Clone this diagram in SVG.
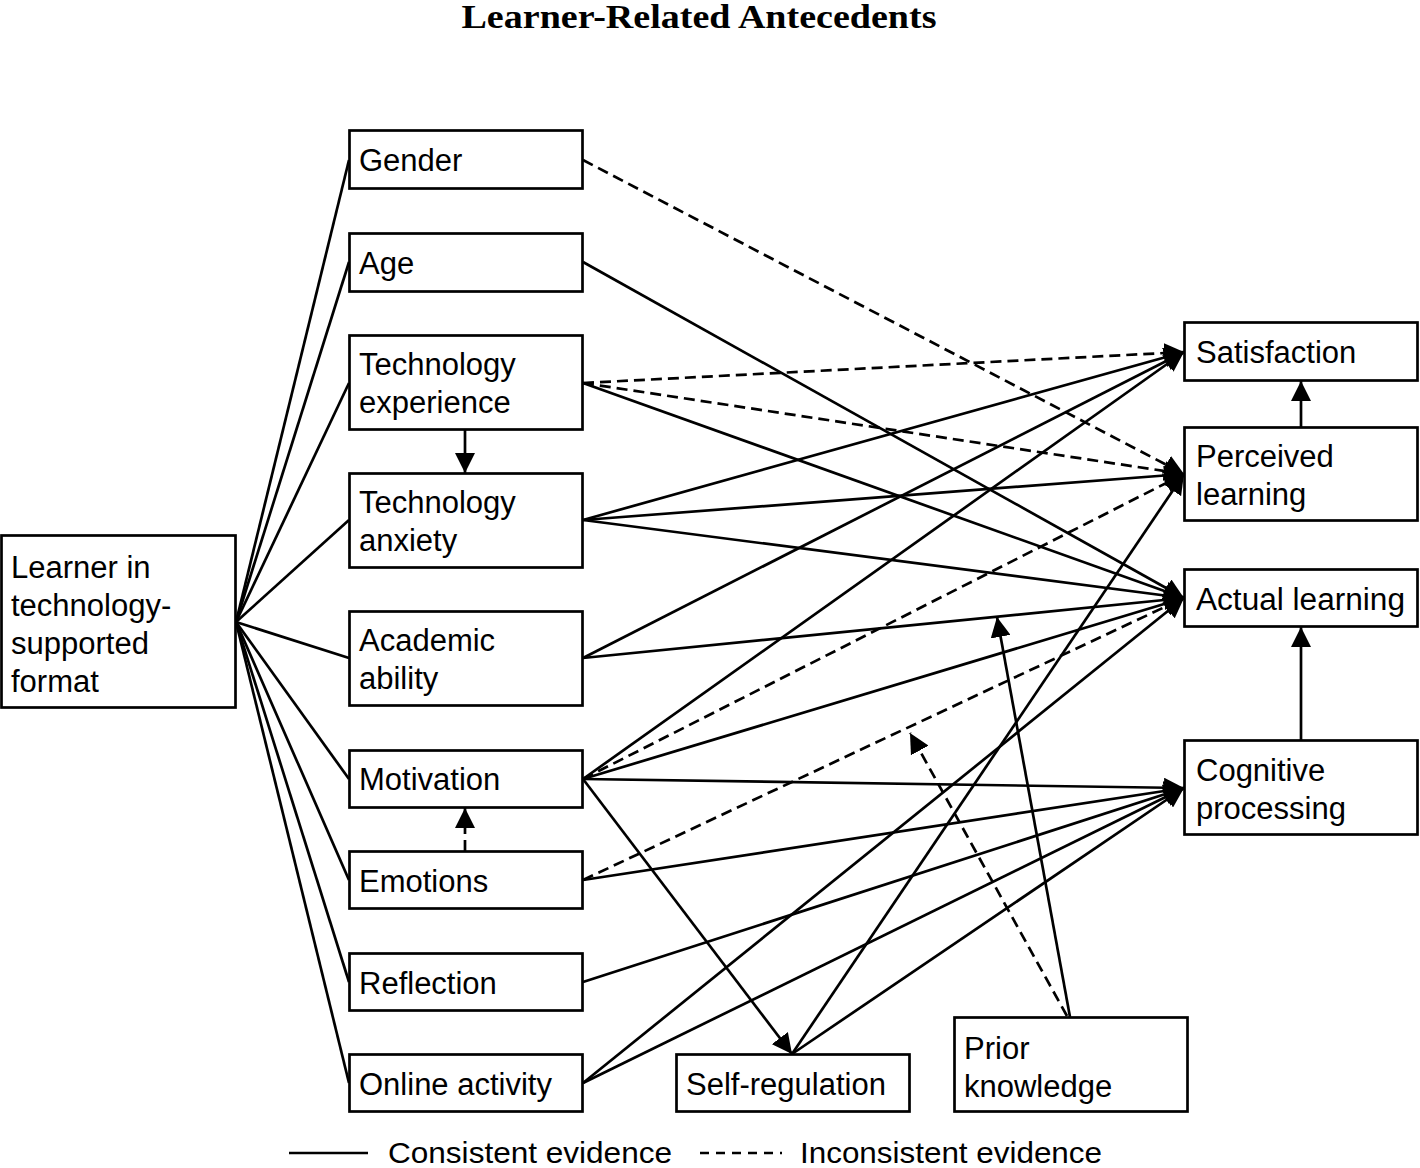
<svg xmlns="http://www.w3.org/2000/svg" width="1420" height="1168" viewBox="0 0 1420 1168">
<style>
.box{fill:#fff;stroke:#000;stroke-width:2.7}
.t{font-family:"Liberation Sans",Arial,sans-serif;font-size:31px;fill:#000}
.c{fill:none;stroke:#000;stroke-width:2.7}
.d{fill:none;stroke:#000;stroke-width:2.7;stroke-dasharray:11 6}
.title{font-family:"Liberation Serif","Times New Roman",serif;font-size:34px;font-weight:bold;fill:#000}
</style>
<defs>
<marker id="ah" markerUnits="userSpaceOnUse" markerWidth="21" markerHeight="20" refX="20" refY="10" orient="auto">
<path d="M0,0 L20,10 L0,20 z" fill="#000" stroke="none"/>
</marker>
</defs>
<rect width="1420" height="1168" fill="#fff"/>
<text class="title" x="699" y="28" text-anchor="middle" textLength="475" lengthAdjust="spacingAndGlyphs">Learner-Related Antecedents</text>

<g id="connectors">
<line class="c" x1="236" y1="622" x2="349" y2="160"/>
<line class="c" x1="236" y1="622" x2="349" y2="262"/>
<line class="c" x1="236" y1="622" x2="349" y2="383"/>
<line class="c" x1="236" y1="622" x2="349" y2="520"/>
<line class="c" x1="236" y1="622" x2="349" y2="658"/>
<line class="c" x1="236" y1="622" x2="349" y2="779"/>
<line class="c" x1="236" y1="622" x2="349" y2="880"/>
<line class="c" x1="236" y1="622" x2="349" y2="982"/>
<line class="c" x1="236" y1="622" x2="349" y2="1083"/>
<line class="d" x1="583" y1="383" x2="1184" y2="352" marker-end="url(#ah)"/>
<line class="c" x1="583" y1="520" x2="1184" y2="352" marker-end="url(#ah)"/>
<line class="c" x1="583" y1="658" x2="1184" y2="352" marker-end="url(#ah)"/>
<line class="c" x1="583" y1="779" x2="1184" y2="352" marker-end="url(#ah)"/>
<line class="d" x1="583" y1="160" x2="1184" y2="474" marker-end="url(#ah)"/>
<line class="d" x1="583" y1="383" x2="1184" y2="474" marker-end="url(#ah)"/>
<line class="c" x1="583" y1="520" x2="1184" y2="474" marker-end="url(#ah)"/>
<line class="d" x1="583" y1="779" x2="1184" y2="474" marker-end="url(#ah)"/>
<line class="c" x1="792" y1="1054" x2="1184" y2="474" marker-end="url(#ah)"/>
<line class="c" x1="583" y1="262" x2="1184" y2="598" marker-end="url(#ah)"/>
<line class="c" x1="583" y1="383" x2="1184" y2="598" marker-end="url(#ah)"/>
<line class="c" x1="583" y1="520" x2="1184" y2="598" marker-end="url(#ah)"/>
<line class="c" x1="583" y1="658" x2="1184" y2="598" marker-end="url(#ah)"/>
<line class="c" x1="583" y1="779" x2="1184" y2="598" marker-end="url(#ah)"/>
<line class="d" x1="583" y1="880" x2="1184" y2="598" marker-end="url(#ah)"/>
<line class="c" x1="583" y1="1083" x2="1184" y2="598" marker-end="url(#ah)"/>
<line class="c" x1="583" y1="779" x2="1184" y2="788" marker-end="url(#ah)"/>
<line class="c" x1="583" y1="880" x2="1184" y2="788" marker-end="url(#ah)"/>
<line class="c" x1="583" y1="982" x2="1184" y2="788" marker-end="url(#ah)"/>
<line class="c" x1="583" y1="1083" x2="1184" y2="788" marker-end="url(#ah)"/>
<line class="c" x1="792" y1="1054" x2="1184" y2="788" marker-end="url(#ah)"/>
<line class="c" x1="583" y1="779" x2="792" y2="1054" marker-end="url(#ah)"/>
<line class="c" x1="1070" y1="1017" x2="997" y2="617" marker-end="url(#ah)"/>
<line class="d" x1="1067" y1="1016" x2="910" y2="733" marker-end="url(#ah)"/>
<line class="c" x1="465" y1="430" x2="465" y2="473" marker-end="url(#ah)"/>
<line class="d" x1="465" y1="851" x2="465" y2="808" marker-end="url(#ah)"/>
<line class="c" x1="1301" y1="427" x2="1301" y2="381" marker-end="url(#ah)"/>
<line class="c" x1="1301" y1="740" x2="1301" y2="627" marker-end="url(#ah)"/>
</g>

<g id="learner">
<rect class="box" x="1.5" y="535.5" width="234" height="172"/>
<text class="t" x="11" y="578">Learner in</text>
<text class="t" x="11" y="616">technology-</text>
<text class="t" x="11" y="654">supported</text>
<text class="t" x="11" y="692">format</text>
</g>
<g id="gender"><rect class="box" x="349.5" y="130.5" width="233" height="58"/><text class="t" x="359" y="171">Gender</text></g>
<g id="age"><rect class="box" x="349.5" y="233.5" width="233" height="58"/><text class="t" x="359" y="274">Age</text></g>
<g id="tech-experience"><rect class="box" x="349.5" y="335.5" width="233" height="94"/><text class="t" x="359" y="375">Technology</text><text class="t" x="359" y="413">experience</text></g>
<g id="tech-anxiety"><rect class="box" x="349.5" y="473.5" width="233" height="94"/><text class="t" x="359" y="513">Technology</text><text class="t" x="359" y="551">anxiety</text></g>
<g id="academic-ability"><rect class="box" x="349.5" y="611.5" width="233" height="94"/><text class="t" x="359" y="651">Academic</text><text class="t" x="359" y="689">ability</text></g>
<g id="motivation"><rect class="box" x="349.5" y="750.5" width="233" height="57"/><text class="t" x="359" y="790">Motivation</text></g>
<g id="emotions"><rect class="box" x="349.5" y="851.5" width="233" height="57"/><text class="t" x="359" y="892">Emotions</text></g>
<g id="reflection"><rect class="box" x="349.5" y="953.5" width="233" height="57"/><text class="t" x="359" y="994">Reflection</text></g>
<g id="online-activity"><rect class="box" x="349.5" y="1054.5" width="233" height="57"/><text class="t" x="359" y="1095">Online activity</text></g>
<g id="self-regulation"><rect class="box" x="676.5" y="1054.5" width="233" height="57"/><text class="t" x="686" y="1095">Self-regulation</text></g>
<g id="prior-knowledge"><rect class="box" x="954.5" y="1017.5" width="233" height="94"/><text class="t" x="964" y="1059">Prior</text><text class="t" x="964" y="1097">knowledge</text></g>
<g id="satisfaction"><rect class="box" x="1184.5" y="322.5" width="233" height="58"/><text class="t" x="1196" y="363">Satisfaction</text></g>
<g id="perceived-learning"><rect class="box" x="1184.5" y="427.5" width="233" height="93"/><text class="t" x="1196" y="467">Perceived</text><text class="t" x="1196" y="505">learning</text></g>
<g id="actual-learning"><rect class="box" x="1184.5" y="569.5" width="233" height="57"/><text class="t" x="1196" y="610" textLength="209" lengthAdjust="spacingAndGlyphs">Actual learning</text></g>
<g id="cognitive-processing"><rect class="box" x="1184.5" y="740.5" width="233" height="94"/><text class="t" x="1196" y="781">Cognitive</text><text class="t" x="1196" y="819">processing</text></g>

<g id="legend">
<line class="c" x1="289" y1="1153" x2="368" y2="1153"/>
<text class="t" x="388" y="1163" style="font-size:29px" textLength="284" lengthAdjust="spacingAndGlyphs">Consistent evidence</text>
<line class="d" x1="700" y1="1153" x2="782" y2="1153" style="stroke-dasharray:9 7"/>
<text class="t" x="800" y="1163" style="font-size:29px" textLength="302" lengthAdjust="spacingAndGlyphs">Inconsistent evidence</text>
</g>
</svg>
